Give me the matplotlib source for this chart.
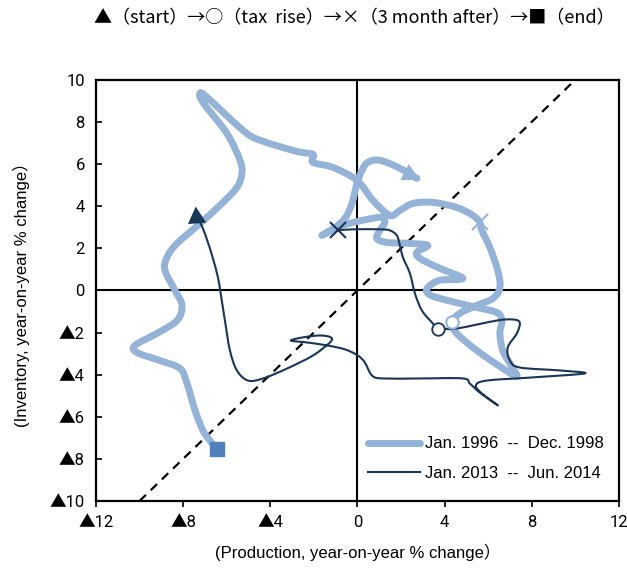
import matplotlib
matplotlib.use("Agg")
import matplotlib.pyplot as plt
from matplotlib.path import Path
from matplotlib.patches import PathPatch
from matplotlib.lines import Line2D
from matplotlib.ticker import FuncFormatter

plt.rcParams['font.family'] = ['Liberation Sans', 'Noto Sans CJK JP', 'DejaVu Sans']

# 1996-1998 path (production, inventory), start -> end
x_9698 = [2.73, 1.95, 1.03, 0.48, 0.21, -0.02, -0.25, -0.57, -1.03, -1.63,
          -0.67, 0.44, 1.12, 1.26, 1.03, 0.89, 1.35, 2.41, 3.23, 2.73,
          2.87, 3.78, 4.84, 3.78, 3.23, 3.23, 3.78, 5.48, 6.40, 6.63,
          6.54, 6.67, 7.00, 7.32, 6.54, 5.48, 4.56, 4.33, 4.70, 5.48,
          6.22, 6.54, 6.44, 6.08, 5.71, 5.62, 5.30, 4.56, 3.46, 2.55,
          1.95, 1.49, 0.71, -0.02, -1.12, -2.04, -2.04, -2.78, -4.47, -5.25,
          -6.90, -7.22, -7.09, -5.99, -5.39, -5.30, -5.53, -6.31, -7.22, -8.28,
          -8.74, -8.83, -8.37, -8.05, -8.28, -9.20, -10.21, -10.11, -9.06, -8.14,
          -7.82, -7.45, -7.09, -6.77, -6.44]
y_9698 = [5.32, 5.80, 6.18, 6.08, 5.70, 5.08, 4.13, 3.42, 2.99, 2.61,
          3.09, 3.37, 3.47, 3.23, 2.85, 2.47, 2.28, 2.23, 2.14, 1.81,
          1.52, 1.05, 0.57, 0.48, 0.14, -0.14, -0.38, -0.81, -1.05, -1.43,
          -2.04, -2.85, -3.47, -4.09, -3.61, -2.85, -2.04, -1.52, -1.09, -0.71,
          -0.38, 0.14, 0.95, 2.04, 2.85, 3.23, 3.56, 3.94, 4.18, 4.13,
          3.80, 3.56, 4.28, 5.23, 5.84, 6.08, 6.46, 6.60, 7.13, 7.60,
          9.17, 9.36, 8.93, 7.46, 6.18, 5.56, 4.89, 4.04, 3.18, 2.23,
          1.57, 0.95, 0.00, -0.71, -1.43, -2.04, -2.61, -2.95, -3.33, -3.71,
          -4.42, -5.70, -6.65, -7.13, -7.55]

# 2013-2014 path
x_1314 = [-7.41, -7.13, -6.86, -6.63, -6.40, -6.26, -6.08, -5.85, -5.53, -5.02,
          -4.33, -3.23, -2.04, -1.26, -1.22, -1.72, -2.50, -3.05, -2.32, -1.40,
          -0.57, 0.02, 0.34, 0.67, 1.17, 2.87, 4.84, 5.16, 5.62, 6.45,
          5.71, 5.44, 5.94, 8.05, 10.44, 9.29, 7.45, 7.00, 6.90, 7.32,
          7.45, 7.13, 6.40, 4.56, 3.92, 3.69, 3.42, 2.96, 2.64, 2.41,
          2.09, 1.95, 1.81, 1.49, 1.03, -0.21, -0.89]
y_1314 = [3.61, 3.04, 2.28, 1.52, 0.62, -0.24, -1.43, -2.85, -3.80, -4.28,
          -4.18, -3.71, -3.09, -2.47, -2.23, -2.14, -2.23, -2.38, -2.47, -2.61,
          -2.80, -3.09, -3.42, -4.04, -4.18, -4.18, -4.18, -4.42, -4.85, -5.46,
          -4.89, -4.51, -4.28, -4.13, -3.94, -3.80, -3.66, -3.33, -2.71, -2.04,
          -1.52, -1.38, -1.43, -1.81, -1.81, -1.81, -1.52, -0.95, -0.14, 0.81,
          1.57, 2.14, 2.61, 2.85, 2.90, 2.90, 2.85]

i_tax_9698, i_after_9698 = 37, 45
i_tax_1314 = 45

label_9698 = 'Jan. 1996  --  Dec. 1998'
label_1314 = 'Jan. 2013  --  Jun. 2014'

light = '#95B3D7'
dark = '#1A3556'


def smooth_path(xs, ys):
    # smoothed line (like Excel's) through every point, drawn as bezier segments
    pts = list(zip(xs, ys))
    verts = [pts[0]]
    codes = [Path.MOVETO]
    n = len(pts)
    for i in range(n - 1):
        p0 = pts[max(i - 1, 0)]
        p1 = pts[i]
        p2 = pts[i + 1]
        p3 = pts[min(i + 2, n - 1)]
        c1 = (p1[0] + (p2[0] - p0[0]) / 6, p1[1] + (p2[1] - p0[1]) / 6)
        c2 = (p2[0] - (p3[0] - p1[0]) / 6, p2[1] - (p3[1] - p1[1]) / 6)
        verts += [c1, c2, p2]
        codes += [Path.CURVE4] * 3
    return Path(verts, codes)


fig = plt.figure(figsize=(6.27, 5.7), dpi=100)
ax = fig.add_axes([0.153, 0.121, 0.834, 0.739])

ax.plot([-10, 9.8], [-10, 9.8], color='black', lw=1.6, ls=(0, (4, 3)), zorder=1)
ax.axhline(0, color='black', lw=1.5, zorder=1)
ax.axvline(0, color='black', lw=1.5, zorder=1)

ax.add_patch(PathPatch(smooth_path(x_9698, y_9698), fill=False, ec=light, lw=5,
                       capstyle='round', joinstyle='round', zorder=2))
ax.add_patch(PathPatch(smooth_path(x_1314, y_1314), fill=False, ec=dark, lw=1.5,
                       joinstyle='round', zorder=3))

# start arrows
ax.annotate('', xy=(2.85, 5.25), xytext=(2.2, 5.6),
            arrowprops=dict(arrowstyle='-|>,head_length=0.55,head_width=0.3',
                            mutation_scale=22, color=light, lw=0,
                            shrinkA=0, shrinkB=0), zorder=2)
ax.annotate('', xy=(-7.42, 3.98), xytext=(-7.36, 3.2),
            arrowprops=dict(arrowstyle='-|>,head_length=0.55,head_width=0.3',
                            mutation_scale=22, color=dark, lw=0,
                            shrinkA=0, shrinkB=0), zorder=3)

# tax rise, 3 months after, end
ax.plot(x_9698[i_tax_9698], y_9698[i_tax_9698], 'o', ms=9, mfc='white',
        mec=light, mew=1.5, zorder=4)
ax.plot(x_1314[i_tax_1314], y_1314[i_tax_1314], 'o', ms=9, mfc='white',
        mec=dark, mew=1.3, zorder=4)
ax.plot(x_9698[i_after_9698], y_9698[i_after_9698], 'x', ms=12, color=light,
        mew=1.5, zorder=4)
ax.plot(x_1314[-1], y_1314[-1], 'x', ms=12, color=dark, mew=1.5, zorder=4)
ax.plot(x_9698[-1], y_9698[-1], 's', ms=10, color='#4F81BD', zorder=4)

ax.set_xlim(-12, 12)
ax.set_ylim(-10, 10)
ax.set_xticks(range(-12, 13, 4))
ax.set_yticks(range(-10, 11, 2))
fmt = FuncFormatter(lambda v, p: '▲%d' % -v if v < 0 else '%d' % v)
ax.xaxis.set_major_formatter(fmt)
ax.yaxis.set_major_formatter(fmt)
ax.tick_params(axis='x', direction='out', length=4, width=1.2, labelsize=12, pad=6)
ax.tick_params(axis='y', direction='in', length=4, width=1.2, labelsize=12, pad=8)
for lab in ax.get_xticklabels() + ax.get_yticklabels():
    lab.set_family(['Roboto', 'Noto Sans CJK JP', 'DejaVu Sans'])
for s in ax.spines.values():
    s.set_linewidth(1.6)

ax.set_xlabel('(Production, year-on-year % change）', fontsize=12, labelpad=10)
ax.set_ylabel('(Inventory, year-on-year % change）', fontsize=12, labelpad=14)

fig.text(0.565, 0.968, '▲（start）→○（tax  rise）→×（3 month after）→■（end）',
         ha='center', va='center', fontsize=13,
         family=['Noto Sans CJK JP', 'DejaVu Sans'])

handles = [Line2D([], [], color=light, lw=5, solid_capstyle='round'),
           Line2D([], [], color=dark, lw=1.5)]
ax.legend(handles, [label_9698, label_1314], loc='lower right',
          bbox_to_anchor=(1.0, 0.013), frameon=False, fontsize=12,
          handlelength=3.1, handletextpad=0.3, labelspacing=0.85)

fig.savefig('out.png', dpi=100)
